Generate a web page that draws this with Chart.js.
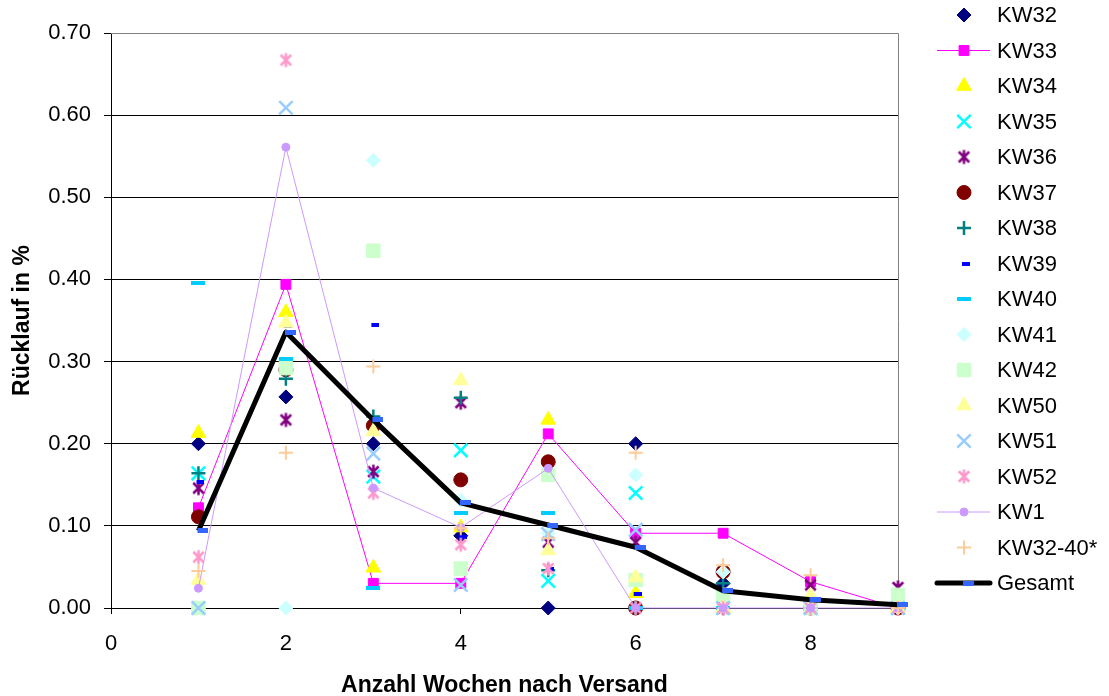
<!DOCTYPE html>
<html lang="de">
<head>
<meta charset="utf-8">
<title>Rücklauf nach Versandwoche</title>
<script src="https://cdn.jsdelivr.net/npm/chart.js@4.4.1/dist/chart.umd.min.js"></script>
<style>
  html, body { margin: 0; padding: 0; background: #fff; }
</style>
</head>
<body>
<canvas id="chart" width="1109" height="696"></canvas>
<script>
/* Rücklauf je Versandwoche (KW), aufgetragen über die Wochen nach Versand.
   Einzelne KW als Punktwolken, KW33/KW1 mit dünner Linie, Gesamt fett. */

const wochen = [1, 2, 3, 4, 5, 6, 7, 8, 9];
const xTicks = [0, 2, 4, 6, 8];
const yTicks = [0, 0.1, 0.2, 0.3, 0.4, 0.5, 0.6, 0.7];

const kw32    = [0.200, 0.257, 0.200, 0.088, 0.000, 0.200, 0.030, 0.000, 0.000];
const kw33    = [0.122, 0.394, 0.030, 0.030, 0.212, 0.091, 0.091, 0.032, 0.000];
const kw34    = [0.213, 0.360, 0.049, 0.098, 0.229, 0.018, 0.000, 0.000, 0.000];
const kw35    = [0.164, 0.296, 0.160, 0.192, 0.033, 0.140, 0.000, 0.000, 0.000];
const kw36    = [0.146, 0.229, 0.166, 0.250, 0.080, 0.080, 0.000, 0.028, 0.025];
const kw37    = [0.111, 0.290, 0.222, 0.156, 0.178, 0.000, 0.044, 0.000, 0.000];
const kw38    = [0.164, 0.279, 0.233, 0.256, 0.046, 0.000, 0.030, 0.000, 0.000];
const kw39    = [0.153, 0.343, 0.345, 0.087, 0.048, 0.017, 0.000, 0.000, 0.000];
const kw40    = [0.396, 0.303, 0.024, 0.116, 0.116, 0.000, 0.000, 0.000, 0.000];
const kw41    = [0.000, 0.000, 0.545, 0.131, 0.091, 0.162, 0.044, 0.000, 0.000];
const kw42    = [0.000, 0.292, 0.435, 0.048, 0.162, 0.034, 0.016, 0.000, 0.016];
const kw50    = [0.034, 0.347, 0.215, 0.277, 0.070, 0.037, 0.000, 0.015, 0.000];
const kw51    = [0.000, 0.609, 0.188, 0.028, 0.090, 0.095, 0.000, 0.000, 0.000];
const kw52    = [0.062, 0.667, 0.140, 0.077, 0.048, 0.000, 0.000, 0.000, 0.000];
const kw1     = [0.024, 0.561, 0.146, 0.098, 0.170, 0.000, 0.000, 0.000, 0.000];
const kw32_40 = [0.045, 0.189, 0.294, 0.097, 0.085, 0.189, 0.052, 0.040, 0.000];
const gesamt  = [0.094, 0.336, 0.229, 0.128, 0.101, 0.074, 0.021, 0.010, 0.004];

const SCHRIFT = '"Liberation Sans", Arial, sans-serif';
Chart.defaults.font.family = SCHRIFT;
Chart.defaults.color = '#000';

// kurzer Strich als Marker; "versatz" = Beginn des Strichs relativ zum Punkt
function strich(farbe, breite, hoehe, versatz) {
  const halb = Math.max(Math.abs(versatz), Math.abs(versatz + breite));
  const c = document.createElement('canvas');
  c.width = Math.ceil(halb * 2);
  c.height = hoehe;
  const g = c.getContext('2d');
  g.fillStyle = farbe;
  g.fillRect(c.width / 2 + versatz, 0, breite, hoehe);
  return c;
}

// Sternchen: schräges Kreuz plus senkrechter Strich
function sternchen(farbe, r, dicke) {
  const s = Math.ceil(2 * r + dicke + 2);
  const c = document.createElement('canvas');
  c.width = s;
  c.height = s;
  const g = c.getContext('2d');
  const m = s / 2, d = r * 0.75;
  g.strokeStyle = farbe;
  g.lineWidth = dicke;
  g.beginPath();
  g.moveTo(m - d, m - d); g.lineTo(m + d, m + d);
  g.moveTo(m + d, m - d); g.lineTo(m - d, m + d);
  g.moveTo(m, m - r); g.lineTo(m, m + r);
  g.stroke();
  return c;
}

function punkte(werte) {
  return wochen.map((w, i) => ({ x: w, y: werte[i] }));
}

// eine Reihe: Farbe, Markerform, Markergröße, Strichstärke des Markers, optional Linie
function reihe(label, werte, farbe, form, radius, rand, linie) {
  return {
    label,
    data: punkte(werte),
    pointStyle: form,
    pointRadius: radius,
    pointHoverRadius: radius,
    pointBorderWidth: rand,
    pointBackgroundColor: farbe,
    pointBorderColor: farbe,
    borderColor: linie ? linie.farbe : farbe,
    borderWidth: linie ? linie.breite : 0,
    showLine: !!linie,
    tension: 0,
    clip: false
  };
}

const datensaetze = [
  reihe('KW32', kw32, '#000080', 'rectRot', 7, 1),
  reihe('KW33', kw33, '#FF00FF', 'rect', 7, 1, { farbe: '#FF00FF', breite: 1 }),
  reihe('KW34', kw34, '#FFFF00', 'triangle', 8.5, 1),
  reihe('KW35', kw35, '#00FFFF', 'crossRot', 9.5, 2.5),
  reihe('KW36', kw36, '#800080', sternchen('#800080', 7, 2.5), 7, 1),
  reihe('KW37', kw37, '#800000', 'circle', 7, 1),
  reihe('KW38', kw38, '#008080', 'cross', 7, 2.5),
  reihe('KW39', kw39, '#0000FF', strich('#0000FF', 8, 4, -2), 4, 1),
  reihe('KW40', kw40, '#00CCFF', strich('#00CCFF', 14, 4, -7), 7, 1),
  reihe('KW41', kw41, '#CCFFFF', 'rectRot', 7, 1),
  reihe('KW42', kw42, '#CCFFCC', 'rect', 9.5, 1),
  reihe('KW50', kw50, '#FFFF99', 'triangle', 8.5, 1),
  reihe('KW51', kw51, '#99CCFF', 'crossRot', 9.5, 2.5),
  reihe('KW52', kw52, '#FF99CC', sternchen('#FF99CC', 7, 2.5), 7, 1),
  reihe('KW1', kw1, '#CC99FF', 'circle', 4, 1, { farbe: '#CC99FF', breite: 1 }),
  reihe('KW32-40*', kw32_40, '#FFCC99', 'cross', 7, 2),
  reihe('Gesamt', gesamt, '#3366FF', strich('#3366FF', 11, 5, -1), 6, 1, { farbe: '#000000', breite: 5 })
];
// spätere Reihen liegen oben
datensaetze.forEach((d, i) => { d.order = datensaetze.length - i; });
datensaetze[16].borderJoinStyle = 'round';

// grauer Rahmen oben und rechts um die Zeichenfläche
const rahmen = {
  id: 'rahmen',
  beforeDatasetsDraw(chart) {
    const { ctx, chartArea: a } = chart;
    ctx.save();
    ctx.strokeStyle = '#808080';
    ctx.lineWidth = 1;
    ctx.beginPath();
    ctx.moveTo(a.left, a.top + 0.5);
    ctx.lineTo(a.right + 0.5, a.top + 0.5);
    ctx.lineTo(a.right + 0.5, a.bottom);
    ctx.stroke();
    ctx.restore();
  }
};

// Legende rechts: Marker (bei Linienreihen mit Linie) und Text
const legende = {
  id: 'legende',
  afterDraw(chart) {
    const ctx = chart.ctx;
    const oben = 15, schritt = 35.5, mitteX = 964, textX = 997;
    chart.data.datasets.forEach((ds, i) => {
      const y = oben + i * schritt;
      ctx.save();
      if (ds.showLine) {
        ctx.strokeStyle = ds.borderColor;
        ctx.lineWidth = ds.borderWidth;
        ctx.lineCap = ds.borderWidth > 2 ? 'round' : 'butt';
        ctx.beginPath();
        ctx.moveTo(937, y);
        ctx.lineTo(990, y);
        ctx.stroke();
      }
      ctx.fillStyle = ds.pointBackgroundColor;
      ctx.strokeStyle = ds.pointBorderColor;
      ctx.lineWidth = ds.pointBorderWidth;
      Chart.helpers.drawPoint(ctx, {
        pointStyle: ds.pointStyle, radius: ds.pointRadius,
        borderWidth: ds.pointBorderWidth, rotation: 0
      }, mitteX, y);
      ctx.fillStyle = '#000';
      ctx.font = '22px ' + SCHRIFT;
      ctx.textAlign = 'left';
      ctx.textBaseline = 'middle';
      ctx.fillText(ds.label, textX, y + 1);
      ctx.restore();
    });
  }
};

new Chart(document.getElementById('chart'), {
  type: 'line',
  data: { datasets: datensaetze },
  plugins: [rahmen, legende],
  options: {
    responsive: false,
    animation: false,
    layout: { padding: { top: 33, right: 211, bottom: 0, left: 0 } },
    plugins: { legend: { display: false }, tooltip: { enabled: false } },
    scales: {
      x: {
        type: 'linear',
        min: 0,
        max: 9,
        afterBuildTicks: s => { s.ticks = xTicks.map(v => ({ value: v })); },
        afterFit: s => { s.height = 88; },
        grid: { drawOnChartArea: false, tickLength: 6, color: '#000' },
        border: { color: '#000', width: 1 },
        ticks: { padding: 17, font: { size: 22 }, callback: v => String(v) },
        title: {
          display: true,
          text: 'Anzahl Wochen nach Versand',
          font: { size: 23, weight: 'bold', lineHeight: 1 },
          padding: { top: 0, bottom: -1 }
        }
      },
      y: {
        min: 0,
        max: 0.7,
        afterBuildTicks: s => { s.ticks = yTicks.map(v => ({ value: v })); },
        afterFit: s => { s.width = 111; },
        grid: { color: c => (c.tick && c.tick.value === 0.7 ? '#808080' : '#000'), tickLength: 7, tickColor: '#000' },
        border: { color: '#000', width: 1 },
        ticks: { padding: 13, font: { size: 22 }, callback: v => v.toFixed(2) },
        title: {
          display: true,
          text: 'Rücklauf in %',
          font: { size: 23, weight: 'bold', lineHeight: 1 },
          padding: { top: 11, bottom: 0 }
        }
      }
    }
  }
});
</script>
</body>
</html>
